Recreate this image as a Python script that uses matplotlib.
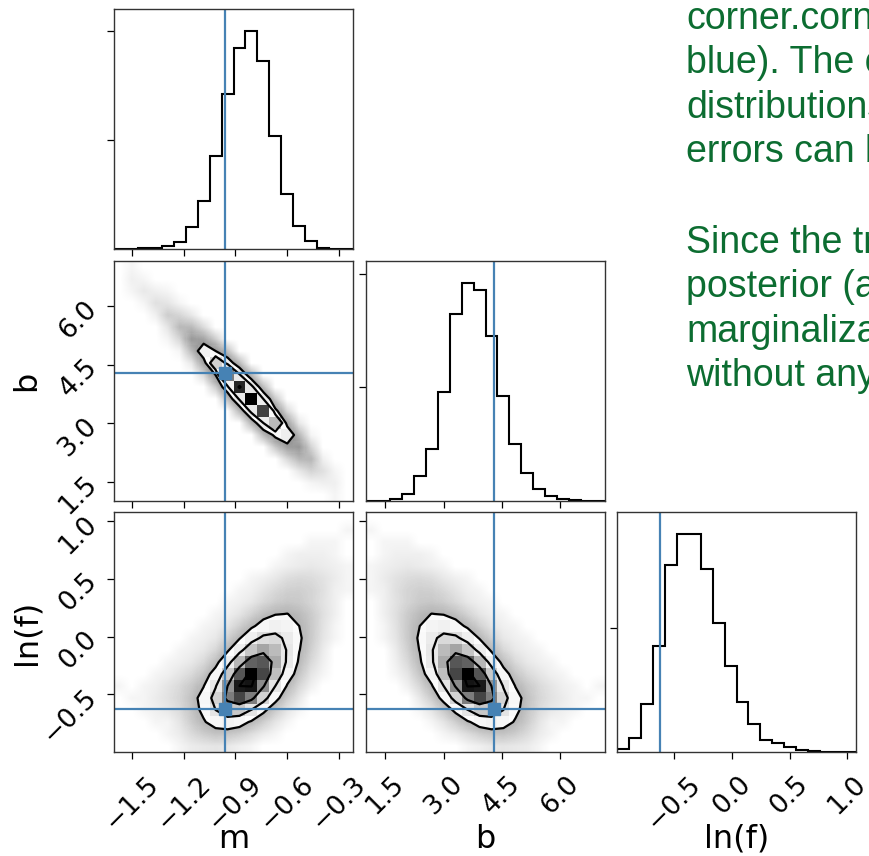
import warnings
warnings.filterwarnings("ignore")

import matplotlib
matplotlib.use("Agg")
import matplotlib.pyplot as plt
import numpy as np
from matplotlib.colors import LinearSegmentedColormap

# parameters, true values and plot ranges (one entry per parameter)
LABELS = ["m", "b", "ln(f)"]
TRUTHS = [-0.9594, 4.294, -0.6274]
RANGES = [(-1.603, -0.219), (1.0, 7.16), (-0.998, 1.076)]
TICKS = [[-1.5, -1.2, -0.9, -0.6, -0.3],
         [1.5, 3.0, 4.5, 6.0],
         [-0.5, 0.0, 0.5, 1.0]]
HIST_TICKS = [1000, 2000]

# 1-D marginal counts, 20 bins across each range
M_COUNTS = [0, 3, 6, 12, 30, 64, 200, 444, 852, 1424, 1838, 2000, 1722, 1032, 504, 214, 70, 12, 3, 0]
B_COUNTS = [0, 0, 15, 61, 223, 457, 957, 1643, 1921, 1860, 1450, 926, 498, 250, 102, 44, 15, 6, 2, 0]
LNF_COUNTS = [21, 110, 388, 851, 1499, 1748, 1753, 1467, 1039, 691, 402, 222, 99, 72, 43, 16, 8, 3, 0, 0]

# 2-D counts: rows are y bins (bottom -> top), columns are x bins (left -> right)
M_B = [
    [0, 0, 0, 0, 0, 0, 0, 0, 0, 0, 0, 0, 0, 0, 0, 0, 0, 0, 1, 0],
    [0, 0, 0, 0, 0, 0, 0, 0, 0, 0, 0, 0, 0, 0, 0, 0, 1, 2, 2, 0],
    [0, 0, 0, 0, 0, 0, 0, 0, 0, 0, 0, 0, 0, 0, 0, 4, 13, 7, 1, 0],
    [0, 0, 0, 0, 0, 0, 0, 0, 0, 0, 0, 0, 0, 0, 10, 39, 42, 2, 0, 0],
    [0, 0, 0, 0, 0, 0, 0, 0, 0, 0, 0, 0, 0, 21, 91, 128, 13, 0, 0, 0],
    [0, 0, 0, 0, 0, 0, 0, 0, 0, 0, 0, 0, 34, 186, 302, 39, 1, 0, 0, 0],
    [0, 0, 0, 0, 0, 0, 0, 0, 0, 0, 0, 40, 310, 619, 91, 4, 0, 0, 0, 0],
    [0, 0, 0, 0, 0, 0, 0, 0, 0, 0, 37, 360, 1033, 186, 10, 0, 0, 0, 0, 0],
    [0, 0, 0, 0, 0, 0, 0, 0, 0, 28, 331, 1200, 310, 21, 0, 0, 0, 0, 0, 0],
    [0, 0, 0, 0, 0, 0, 0, 0, 17, 256, 1103, 360, 34, 0, 0, 0, 0, 0, 0, 0],
    [0, 0, 0, 0, 0, 0, 0, 9, 153, 854, 331, 40, 0, 0, 0, 0, 0, 0, 0, 0],
    [0, 0, 0, 0, 0, 0, 4, 80, 511, 256, 37, 0, 0, 0, 0, 0, 0, 0, 0, 0],
    [0, 0, 0, 0, 0, 1, 36, 266, 153, 28, 0, 0, 0, 0, 0, 0, 0, 0, 0, 0],
    [0, 0, 0, 0, 1, 12, 120, 80, 17, 0, 0, 0, 0, 0, 0, 0, 0, 0, 0, 0],
    [0, 0, 0, 0, 5, 38, 36, 9, 0, 0, 0, 0, 0, 0, 0, 0, 0, 0, 0, 0],
    [0, 0, 0, 2, 18, 12, 4, 0, 0, 0, 0, 0, 0, 0, 0, 0, 0, 0, 0, 0],
    [0, 0, 1, 7, 5, 1, 0, 0, 0, 0, 0, 0, 0, 0, 0, 0, 0, 0, 0, 0],
    [0, 1, 4, 2, 1, 0, 0, 0, 0, 0, 0, 0, 0, 0, 0, 0, 0, 0, 0, 0],
    [0, 2, 1, 0, 0, 0, 0, 0, 0, 0, 0, 0, 0, 0, 0, 0, 0, 0, 0, 0],
    [0, 1, 0, 0, 0, 0, 0, 0, 0, 0, 0, 0, 0, 0, 0, 0, 0, 0, 0, 0],
]
M_LNF = [
    [0, 0, 0, 0, 0, 1, 3, 4, 5, 4, 2, 1, 0, 0, 0, 0, 0, 0, 0, 0],
    [0, 0, 0, 0, 1, 3, 9, 18, 26, 25, 17, 8, 3, 1, 0, 0, 0, 0, 0, 0],
    [0, 0, 0, 1, 1, 5, 19, 46, 79, 94, 77, 44, 17, 5, 1, 0, 0, 0, 0, 0],
    [0, 0, 1, 2, 4, 9, 26, 66, 138, 197, 196, 135, 64, 21, 5, 1, 0, 0, 0, 0],
    [0, 1, 1, 3, 6, 12, 30, 75, 174, 302, 362, 302, 174, 69, 19, 4, 0, 0, 0, 0],
    [1, 0, 1, 2, 5, 10, 22, 50, 131, 275, 402, 406, 284, 138, 46, 11, 2, 0, 0, 0],
    [0, 0, 0, 1, 2, 5, 10, 25, 76, 194, 345, 424, 361, 212, 87, 25, 5, 1, 0, 0],
    [0, 0, 0, 0, 1, 2, 4, 10, 33, 104, 224, 333, 343, 245, 124, 42, 10, 2, 0, 0],
    [0, 0, 0, 0, 0, 1, 2, 4, 11, 43, 111, 200, 251, 217, 130, 54, 16, 3, 0, 0],
    [0, 0, 0, 0, 0, 0, 1, 2, 4, 15, 47, 103, 155, 163, 118, 60, 21, 5, 1, 0],
    [0, 0, 0, 0, 0, 0, 0, 1, 2, 5, 16, 41, 76, 97, 85, 52, 22, 6, 1, 0],
    [0, 0, 0, 0, 0, 0, 0, 0, 1, 2, 5, 14, 32, 49, 53, 39, 20, 7, 2, 0],
    [0, 0, 0, 0, 0, 0, 0, 0, 0, 1, 2, 4, 10, 18, 24, 21, 13, 6, 2, 0],
    [0, 0, 0, 0, 0, 0, 0, 0, 0, 0, 1, 2, 5, 10, 16, 17, 13, 7, 2, 1],
    [0, 0, 0, 0, 0, 0, 0, 0, 0, 0, 0, 1, 2, 4, 8, 10, 9, 6, 3, 1],
    [0, 0, 0, 0, 0, 0, 0, 0, 0, 0, 0, 0, 0, 1, 2, 3, 4, 3, 2, 1],
    [0, 0, 0, 0, 0, 0, 0, 0, 0, 0, 0, 0, 0, 0, 1, 2, 2, 2, 1, 0],
    [0, 0, 0, 0, 0, 0, 0, 0, 0, 0, 0, 0, 0, 0, 0, 0, 1, 1, 1, 0],
    [0, 0, 0, 0, 0, 0, 0, 0, 0, 0, 0, 0, 0, 0, 0, 0, 0, 0, 0, 1],
    [0, 0, 0, 0, 0, 0, 0, 0, 0, 0, 0, 0, 0, 0, 0, 0, 0, 0, 0, 0],
]
B_LNF = [
    [0, 0, 0, 0, 0, 0, 0, 0, 1, 2, 4, 5, 4, 3, 1, 0, 0, 0, 0, 0],
    [0, 0, 0, 0, 0, 0, 1, 3, 8, 17, 25, 26, 18, 9, 3, 1, 0, 0, 0, 0],
    [0, 0, 0, 0, 0, 1, 5, 17, 44, 77, 94, 79, 46, 19, 5, 1, 1, 0, 0, 0],
    [0, 0, 0, 0, 1, 5, 21, 64, 135, 196, 197, 138, 66, 26, 9, 4, 2, 1, 0, 0],
    [0, 0, 0, 0, 4, 19, 69, 174, 302, 362, 302, 174, 75, 30, 12, 6, 3, 1, 1, 0],
    [0, 0, 0, 2, 11, 46, 138, 284, 406, 402, 275, 131, 50, 22, 10, 5, 2, 1, 0, 1],
    [0, 0, 1, 5, 25, 87, 212, 361, 424, 345, 194, 76, 25, 10, 5, 2, 1, 0, 0, 0],
    [0, 0, 2, 10, 42, 124, 245, 343, 333, 224, 104, 33, 10, 4, 2, 1, 0, 0, 0, 0],
    [0, 0, 3, 16, 54, 130, 217, 251, 200, 111, 43, 11, 4, 2, 1, 0, 0, 0, 0, 0],
    [0, 1, 5, 21, 60, 118, 163, 155, 103, 47, 15, 4, 2, 1, 0, 0, 0, 0, 0, 0],
    [0, 1, 6, 22, 52, 85, 97, 76, 41, 16, 5, 2, 1, 0, 0, 0, 0, 0, 0, 0],
    [0, 2, 7, 20, 39, 53, 49, 32, 14, 5, 2, 1, 0, 0, 0, 0, 0, 0, 0, 0],
    [0, 2, 6, 13, 21, 24, 18, 10, 4, 2, 1, 0, 0, 0, 0, 0, 0, 0, 0, 0],
    [1, 2, 7, 13, 17, 16, 10, 5, 2, 1, 0, 0, 0, 0, 0, 0, 0, 0, 0, 0],
    [1, 3, 6, 9, 10, 8, 4, 2, 1, 0, 0, 0, 0, 0, 0, 0, 0, 0, 0, 0],
    [1, 2, 3, 4, 3, 2, 1, 0, 0, 0, 0, 0, 0, 0, 0, 0, 0, 0, 0, 0],
    [0, 1, 2, 2, 2, 1, 0, 0, 0, 0, 0, 0, 0, 0, 0, 0, 0, 0, 0, 0],
    [0, 1, 1, 1, 0, 0, 0, 0, 0, 0, 0, 0, 0, 0, 0, 0, 0, 0, 0, 0],
    [1, 0, 0, 0, 0, 0, 0, 0, 0, 0, 0, 0, 0, 0, 0, 0, 0, 0, 0, 0],
    [0, 0, 0, 0, 0, 0, 0, 0, 0, 0, 0, 0, 0, 0, 0, 0, 0, 0, 0, 0],
]

# slide text on the right (cut off by the image edge)
TEXT_PARA1 = ["corner.corner", "blue). The corner", "distributions", "errors can be"]
TEXT_PARA2 = ["Since the true", "posterior (and", "marginalization", "without any"]

# ---- layout (pixels) and styles
FIG_W, FIG_H = 869, 856
COL_X = [114, 366, 617]
ROW_Y = [9, 261, 512]
PANEL_W, PANEL_H = 239, 240
TRUTH_COLOR = "#4682b4"
TEXT_GREEN = "#0c6d31"
TICK_SIZE = 19
LABEL_SIZE = 23

DENSITY_CMAP = LinearSegmentedColormap.from_list("density", ["k", (1, 1, 1, 0)])
CLOUD_CMAP = LinearSegmentedColormap.from_list("cloud", [(0, 0, 0, 0), (0, 0, 0, 1)])


def sigma_levels(H):
    # corner-style levels enclosing 0.5, 1, 1.5, 2 sigma of the mass
    flat = np.sort(H.ravel())[::-1]
    cum = np.cumsum(flat) / flat.sum()
    mass = 1.0 - np.exp(-0.5 * np.array([0.5, 1.0, 1.5, 2.0]) ** 2)
    V = np.empty(len(mass))
    for i, v0 in enumerate(mass):
        sel = flat[cum <= v0]
        V[i] = sel[-1] if len(sel) else flat[0]
    V.sort()
    dup = np.diff(V) == 0
    while np.any(dup):
        V[np.where(dup)[0][0]] *= 1.0 - 1e-4
        dup = np.diff(V) == 0
    return V


def hist_panel(ax, counts, rng, truth):
    counts = np.asarray(counts, float)
    edges = np.linspace(rng[0], rng[1], len(counts) + 1)
    ax.stairs(counts, edges, color="k", lw=1.5)
    ax.axvline(truth, color=TRUTH_COLOR, lw=1.6)
    ax.set_yticks(HIST_TICKS)
    ax.set_xlim(rng)
    ax.set_ylim(0, 1.1 * counts.max())


def density_panel(ax, H, xr, yr, tx, ty):
    H = np.asarray(H, float)
    ny, nx = H.shape
    xe = np.linspace(xr[0], xr[1], nx + 1)
    ye = np.linspace(yr[0], yr[1], ny + 1)
    xc = 0.5 * (xe[1:] + xe[:-1])
    yc = 0.5 * (ye[1:] + ye[:-1])

    # grey cloud standing in for the individual samples
    cloud = 0.6 * (1.0 - np.exp(-(H / 80.0) ** 0.6))
    ax.imshow(cloud, origin="lower", extent=[xr[0], xr[1], yr[0], yr[1]],
              cmap=CLOUD_CMAP, vmin=0, vmax=1, interpolation="bilinear", aspect="auto")

    V = sigma_levels(H)
    dx, dy = xe[1] - xe[0], ye[1] - ye[0]
    xp = np.concatenate([[xc[0] - dx], xc, [xc[-1] + dx]])
    yp = np.concatenate([[yc[0] - dy], yc, [yc[-1] + dy]])
    Hp = np.pad(H, 1)
    ax.contourf(xp, yp, Hp, [V.min(), Hp.max()], colors="white", antialiased=False)
    ax.pcolormesh(xe, ye, H.max() - H, cmap=DENSITY_CMAP, shading="flat")
    ax.contour(xp, yp, Hp, V, colors="k", linewidths=1.6)

    ax.axvline(tx, color=TRUTH_COLOR, lw=1.6)
    ax.axhline(ty, color=TRUTH_COLOR, lw=1.6)
    ax.plot(tx, ty, "s", color=TRUTH_COLOR, ms=8)
    ax.set_xlim(xr)
    ax.set_ylim(yr)


def style(ax, xi, yi=None, show_x=False, show_y=False):
    ax.set_xticks(TICKS[xi])
    if yi is not None:
        ax.set_yticks(TICKS[yi])
    ax.tick_params(direction="out", length=5, width=0.9, labelsize=TICK_SIZE,
                   labelbottom=show_x, labelleft=show_y)
    ax.tick_params(axis="x", pad=9)
    for sp in ax.spines.values():
        sp.set_linewidth(1.0)
        sp.set_color("#333333")
    if show_x:
        for lab in ax.get_xticklabels():
            lab.set_rotation(45)
        ax.set_xlabel(LABELS[xi], fontsize=LABEL_SIZE)
        ax.xaxis.set_label_coords(0.5, -0.3)
    if show_y:
        for lab in ax.get_yticklabels():
            lab.set_rotation(45)
        ax.set_ylabel(LABELS[yi], fontsize=LABEL_SIZE)
        ax.yaxis.set_label_coords(-0.3, 0.5)


def panel(fig, row, col):
    x, y = COL_X[col], ROW_Y[row]
    return fig.add_axes([x / FIG_W, 1 - (y + PANEL_H) / FIG_H, PANEL_W / FIG_W, PANEL_H / FIG_H])


fig = plt.figure(figsize=(FIG_W / 100, FIG_H / 100), dpi=100)

ax = panel(fig, 0, 0)
hist_panel(ax, M_COUNTS, RANGES[0], TRUTHS[0])
style(ax, 0)

ax = panel(fig, 1, 0)
density_panel(ax, M_B, RANGES[0], RANGES[1], TRUTHS[0], TRUTHS[1])
style(ax, 0, 1, show_y=True)

ax = panel(fig, 1, 1)
hist_panel(ax, B_COUNTS, RANGES[1], TRUTHS[1])
style(ax, 1)

ax = panel(fig, 2, 0)
density_panel(ax, M_LNF, RANGES[0], RANGES[2], TRUTHS[0], TRUTHS[2])
style(ax, 0, 2, show_x=True, show_y=True)

ax = panel(fig, 2, 1)
density_panel(ax, B_LNF, RANGES[1], RANGES[2], TRUTHS[1], TRUTHS[2])
style(ax, 1, 2, show_x=True)

ax = panel(fig, 2, 2)
hist_panel(ax, LNF_COUNTS, RANGES[2], TRUTHS[2])
style(ax, 2, show_x=True)

# green slide text
TEXT_X = 686
PITCH = 44.4
for i, line in enumerate(TEXT_PARA1):
    fig.text(TEXT_X / FIG_W, 1 - (29 + i * PITCH) / FIG_H, line, fontsize=27,
             family="Liberation Sans", color=TEXT_GREEN, va="baseline", ha="left")
for i, line in enumerate(TEXT_PARA2):
    fig.text(TEXT_X / FIG_W, 1 - (253 + i * PITCH) / FIG_H, line, fontsize=27,
             family="Liberation Sans", color=TEXT_GREEN, va="baseline", ha="left")

fig.savefig("out.png", dpi=100)
